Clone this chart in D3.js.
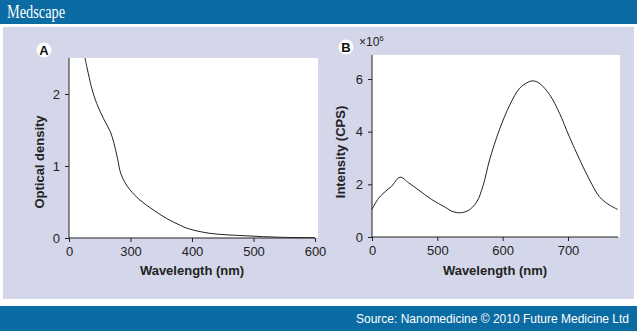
<!DOCTYPE html>
<html><head><meta charset="utf-8">
<script src="https://cdn.jsdelivr.net/npm/d3@7"></script>
<style>html,body{margin:0;padding:0;background:#fff;}svg{display:block;}</style>
</head><body>
<script>
// Panel A: absorption spectrum
const wlA = [226,237,245,256,267,273,279,284,291,299,315,337,359,380,394,429,489,543,600];
const odA = [2.50,2.08,1.87,1.66,1.48,1.32,1.10,0.90,0.77,0.67,0.53,0.39,0.27,0.18,0.13,0.065,0.03,0.01,0.005];
const xTicksA = [200,300,400,500,600];
const xTickLabelsA = ["0","300","400","500","600"];
const yTicksA = [0,1,2];

// Panel B: emission spectrum (x10^6 CPS)
const wlB = [400,410,420,430,443,456,471,491,512,524,534,547,560,570,580,595,611,626,639,646,656,672,687,702,718,733,748,763,776];
const intB = [1.05,1.47,1.72,1.93,2.27,2.06,1.79,1.43,1.13,0.96,0.92,1.0,1.32,1.95,2.93,4.07,5.02,5.65,5.88,5.93,5.84,5.40,4.70,3.81,2.93,2.17,1.53,1.22,1.05];
const xTicksB = [400,500,600,700];
const xTickLabelsB = ["0","500","600","700"];
const yTicksB = [0,2,4,6];

const W = 637, H = 331;
const svg = d3.select("body").append("svg").attr("width", W).attr("height", H);

const blue = "#0b6ba3";
svg.append("rect").attr("width", W).attr("height", H).attr("fill", "#fff");
svg.append("rect").attr("x",0).attr("y",0).attr("width",W).attr("height",24).attr("fill",blue);
svg.append("rect").attr("x",3).attr("y",27).attr("width",W-6).attr("height",272).attr("fill","#d4d6ea");
svg.append("rect").attr("x",0).attr("y",306).attr("width",W).attr("height",25).attr("fill",blue);

svg.append("text").attr("x",7).attr("y",18).text("Medscape")
  .attr("font-family","Liberation Serif, serif").attr("font-size",19).attr("fill","#fff")
  .attr("textLength",58).attr("lengthAdjust","spacingAndGlyphs");
svg.append("text").attr("x",629).attr("y",323).attr("text-anchor","end")
  .text("Source: Nanomedicine \u00A9 2010 Future Medicine Ltd")
  .attr("font-family","Liberation Sans, Arial, sans-serif").attr("font-size",12).attr("fill","#fff");

const font = "Liberation Sans, Arial, sans-serif";

function panel(cfg){
  const g = svg.append("g");
  const x = d3.scaleLinear().domain(cfg.xd).range(cfg.xr);
  const y = d3.scaleLinear().domain(cfg.yd).range(cfg.yr);
  g.append("rect").attr("x",cfg.xr[0]).attr("y",cfg.top).attr("width",cfg.right-cfg.xr[0]).attr("height",cfg.yr[0]-cfg.top).attr("fill","#fff");
  const xa = d3.axisBottom(x).tickValues(cfg.xt).tickFormat((d,i)=>cfg.xtl[i]).tickSizeOuter(0).tickSize(4).tickPadding(5);
  const gx = g.append("g").attr("transform",`translate(0,${cfg.yr[0]})`).call(xa);
  gx.select(".domain").attr("d",`M${cfg.xr[0]},0H${cfg.axisRight}`);
  const ya = d3.axisLeft(y).tickValues(cfg.yt).tickFormat(d3.format("d")).tickSizeOuter(0).tickSize(4).tickPadding(5);
  const gy = g.append("g").attr("transform",`translate(${cfg.xr[0]},0)`).call(ya);
  gy.select(".domain").attr("d",`M0,${cfg.yr[0]}V${cfg.top}`);
  [gx,gy].forEach(a=>{
    a.selectAll("text").attr("font-family",font).attr("font-size",13).attr("fill","#222");
    a.selectAll("line,.domain").attr("stroke","#222");
  });
  const line = d3.line().x(d=>x(d[0])).y(d=>y(d[1])).curve(d3.curveCatmullRom.alpha(0.5));
  g.append("path").datum(cfg.data).attr("d",line).attr("fill","none").attr("stroke","#222").attr("stroke-width",1);
  g.append("text").attr("x",(cfg.xr[0]+cfg.axisRight)/2).attr("y",275).attr("text-anchor","middle")
    .text("Wavelength (nm)").attr("font-family",font).attr("font-weight","bold").attr("font-size",13).attr("fill","#222");
  g.append("text").attr("transform",`translate(${cfg.ylx},${cfg.yly}) rotate(-90)`).attr("text-anchor","middle")
    .text(cfg.ylabel).attr("font-family",font).attr("font-weight","bold").attr("font-size",13).attr("fill","#222");
  g.append("circle").attr("cx",cfg.lx).attr("cy",cfg.ly).attr("r",7.5).attr("fill","#fff");
  g.append("text").attr("x",cfg.lx).attr("y",cfg.ly+4.5).attr("text-anchor","middle").text(cfg.letter)
    .attr("font-family",font).attr("font-weight","bold").attr("font-size",13).attr("fill","#111");
  return g;
}

panel({xd:[200,600], xr:[69,315], yd:[0,2.5], yr:[238,58], top:58, right:318, axisRight:315,
  xt:xTicksA, xtl:xTickLabelsA, yt:yTicksA, data:wlA.map((w,i)=>[w,odA[i]]),
  ylabel:"Optical density", ylx:44, yly:162, letter:"A", lx:44, ly:50});

panel({xd:[400,700], xr:[372,568], yd:[0,6], yr:[237,79], top:55, right:620, axisRight:618,
  xt:xTicksB, xtl:xTickLabelsB, yt:yTicksB, data:wlB.map((w,i)=>[w,intB[i]]),
  ylabel:"Intensity (CPS)", ylx:345, yly:152, letter:"B", lx:346, ly:47});

svg.append("text").attr("x",359).attr("y",46).attr("font-family",font).attr("font-size",12).attr("fill","#222")
  .text("\u00D710").append("tspan").attr("dy",-5).attr("font-size",8).text("6");
</script>
</body></html>
